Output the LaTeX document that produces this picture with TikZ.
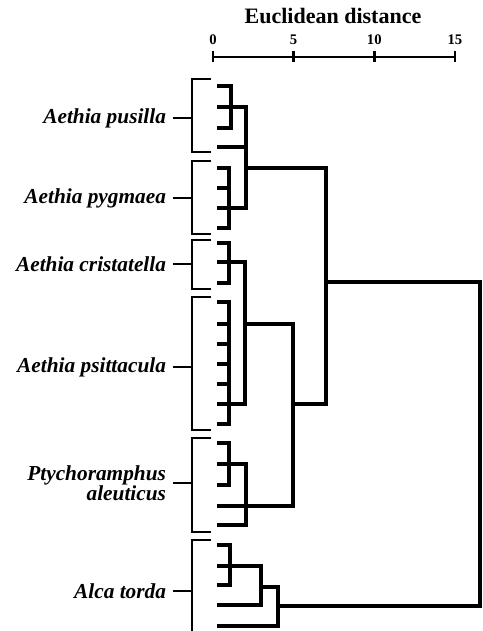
\documentclass[tikz,border=0pt]{standalone}
\usepackage{fontspec}
\setmainfont{Liberation Serif}

\begin{document}
\begin{tikzpicture}[
    x=0.75pt, y=-0.75pt,
    tree/.style={line width=2.3pt},
    brk/.style={line width=2.2pt},
    axisline/.style={line width=2pt},
    lbl/.style={anchor=east, align=right, inner xsep=5.25pt, inner ysep=0pt, outer sep=0pt, font=\fontsize{16}{15}\selectfont\bfseries\itshape},
    ticklbl/.style={inner sep=0pt, font=\fontsize{11}{13}\selectfont\bfseries},
    ttl/.style={inner sep=0pt, font=\fontsize{16.5}{18}\selectfont\bfseries}
]
\useasboundingbox (0,0) rectangle (482,631);

\node[ttl] (title) at (333,16.5) {Euclidean distance};
\draw[axisline] (213,57) -- (455,57);
\foreach \d in {0,5,10,15} {
    \draw[axisline] ({213+16.13*\d},51) -- ({213+16.13*\d},62);
    \node[ticklbl] (t\d) at ({213+16.13*\d},40) {\d};
}

\foreach \y [count=\i] in {86,107,128,147,168,188,208,228,243,262,283,302,324,344,364,384,404,424,443,464,485,506,525,545,566,585,605,626}
    \coordinate (l\i) at (217,\y);

\coordinate (pus) at (231,107);
\coordinate (pyg) at (229,208);
\coordinate (cri) at (229,262);
\coordinate (psi) at (229,404);
\coordinate (pty) at (229,464);
\coordinate (alc) at (230,566);
\coordinate (m1) at (246,168);
\coordinate (m2) at (245,324);
\coordinate (m3) at (246,506);
\coordinate (m4) at (293,404);
\coordinate (m5) at (326,282);
\coordinate (m6) at (261,587);
\coordinate (m7) at (278,606);
\coordinate (root) at (480,444);

\draw[tree] (l1) -| (pus) |- (l3);
\draw[tree] (l2) -- (pus);
\draw[tree] (l5) -| (pyg) |- (l8);
\draw[tree] (l6) -| (pyg);
\draw[tree] (l7) -- (pyg);
\draw[tree] (l9) -| (cri) |- (l11);
\draw[tree] (l10) -- (cri);
\draw[tree] (l12) -| (psi) |- (l18);
\foreach \i in {13,...,16}
    \draw[tree] (l\i) -| (psi);
\draw[tree] (l17) -- (psi);
\draw[tree] (l19) -| (pty) |- (l21);
\draw[tree] (l20) -- (pty);
\draw[tree] (l24) -| (alc) |- (l26);
\draw[tree] (l25) -- (alc);

\draw[tree] (pus) -| (m1) |- (pyg);
\draw[tree] (l4) -| (m1);
\draw[tree] (cri) -| (m2) |- (psi);
\draw[tree] (pty) -| (m3) |- (l23);
\draw[tree] (m2) -| (m4) |- (l22);
\draw[tree] (m1) -| (m5) |- (m4);
\draw[tree] (alc) -| (m6) |- (l27);
\draw[tree] (m6) -| (m7) |- (l28);
\draw[tree] (m5) -| (root) |- (m7);

\foreach \t/\b in {79/152, 161/234, 240/289, 297/430, 438/532}
    \draw[brk] (211,\t) -| (192,\b) -- (211,\b);
\draw[brk] (211,540) -| (192,632);

\coordinate (b1) at (192,118);
\coordinate (b2) at (192,198);
\coordinate (b3) at (192,264);
\coordinate (b4) at (192,367);
\coordinate (b5) at (192,483);
\coordinate (b6) at (192,591);

\node[lbl] (pusilla) at (173,118) {Aethia pusilla};
\node[lbl] (pygmaea) at (173,198) {Aethia pygmaea};
\node[lbl] (cristatella) at (173,264) {Aethia cristatella};
\node[lbl] (psittacula) at (173,367) {Aethia psittacula};
\node[lbl] (aleuticus) at (173,483) {Ptychoramphus\\aleuticus};
\node[lbl] (torda) at (173,591) {Alca torda};

\draw[brk] (pusilla) -- (b1);
\draw[brk] (pygmaea) -- (b2);
\draw[brk] (cristatella) -- (b3);
\draw[brk] (psittacula) -- (b4);
\draw[brk] (aleuticus) -- (b5);
\draw[brk] (torda) -- (b6);
\end{tikzpicture}
\end{document}
